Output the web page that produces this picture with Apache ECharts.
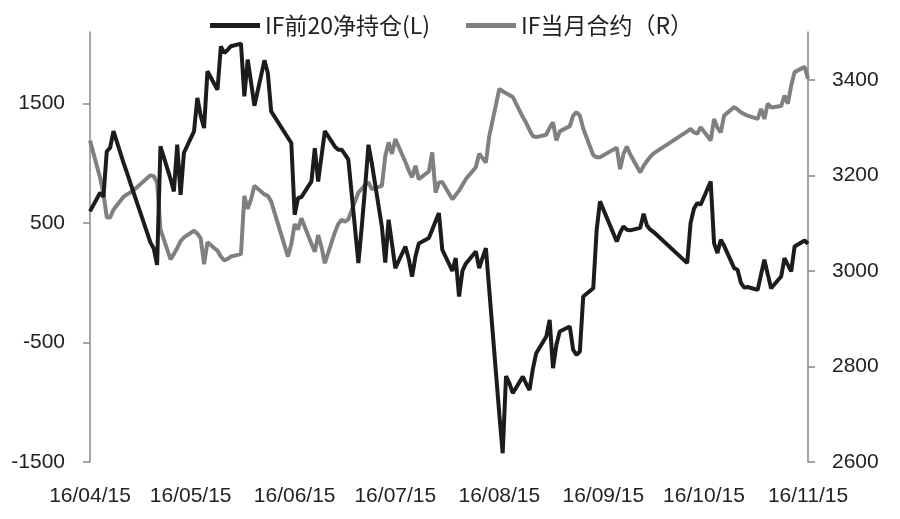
<!DOCTYPE html>
<html>
<head>
<meta charset="utf-8">
<script src="https://cdn.jsdelivr.net/npm/echarts@6/dist/echarts.min.js"></script>
<style>
	html, body { margin: 0; padding: 0; background: #fff; }
	#main { width: 900px; height: 519px; }
</style>
</head>
<body>
<div id="main"></div>
<script>
// trading days (2016), MM-DD
const tradeDays = [
	'04-15','04-18','04-19','04-20','04-21','04-22','04-25','04-26','04-27','04-28','04-29',
	'05-03','05-04','05-05','05-06','05-09','05-10','05-11','05-12','05-13','05-16','05-17','05-18','05-19','05-20','05-23','05-24','05-25','05-26','05-27','05-30','05-31',
	'06-01','06-02','06-03','06-06','06-07','06-08','06-13','06-14','06-15','06-16','06-17','06-20','06-21','06-22','06-23','06-24','06-27','06-28','06-29','06-30',
	'07-01','07-04','07-05','07-06','07-07','07-08','07-11','07-12','07-13','07-14','07-15','07-18','07-19','07-20','07-21','07-22','07-25','07-26','07-27','07-28','07-29',
	'08-01','08-02','08-03','08-04','08-05','08-08','08-09','08-10','08-11','08-12','08-15','08-16','08-17','08-18','08-19','08-22','08-23','08-24','08-25','08-26','08-29','08-30','08-31',
	'09-01','09-02','09-05','09-06','09-07','09-08','09-09','09-12','09-13','09-14','09-19','09-20','09-21','09-22','09-23','09-26','09-27','09-28','09-29','09-30',
	'10-10','10-11','10-12','10-13','10-14','10-17','10-18','10-19','10-20','10-21','10-24','10-25','10-26','10-27','10-28','10-31',
	'11-01','11-02','11-03','11-04','11-07','11-08','11-09','11-10','11-11','11-14','11-15'
]

// IF前20净持仓 (left axis)
const netPosition = [
	598, 754, 720, 1100, 1131, 1270, 1005, 922, 838, 755, 672,
	339, 288, 150, 1142, 870, 765, 1156, 737, 1089, 1268, 1548, 1400, 1296, 1771, 1617, 1980, 1925, 1950, 1981, 2003, 1561,
	1869, 1680, 1483, 1863, 1757, 1436, 1215, 1171, 570, 710, 718, 849, 1128, 849, 1060, 1270, 1140, 1115, 1115, 1075,
	1031, 165, 470, 800, 1156, 1000, 470, 170, 528, 330, 123, 304, 200, 53, 220, 330, 375, 445, 515, 584, 277,
	100, 207, -115, 100, 160, 263, 123, 210, 291, -60, -1100, -1427, -780, -840, -924, -785, -845, -897, -720, -589, -450, -310, -715,
	-520, -408, -366, -560, -603, -575, -115, -45, 440, 682, 346, 420, 472, 445, 439, 460, 578, 480, 445, 425,
	165, 500, 620, 668, 654, 849, 333, 249, 360, 310, 123, 110, 0, -40, -35, -59,
	70, 193, 72, -45, 53, 207, 150, 96, 304, 354, 327
]

// IF当月合约 (right axis)
const contractPrice = [
	3273, 3195, 3163, 3112, 3112, 3128, 3155, 3160, 3164, 3169, 3175,
	3200, 3198, 3185, 3087, 3024, 3035, 3048, 3062, 3070, 3084, 3078, 3068, 3014, 3060, 3042, 3030, 3022, 3025, 3030, 3035, 3157,
	3130, 3150, 3178, 3160, 3157, 3145, 3030, 3056, 3098, 3087, 3110, 3057, 3040, 3075, 3050, 3016, 3081, 3098, 3107, 3103,
	3108, 3164, 3172, 3180, 3185, 3171, 3178, 3240, 3269, 3245, 3276, 3228, 3210, 3196, 3220, 3192, 3208, 3248, 3164, 3185, 3186,
	3150, 3159, 3168, 3180, 3192, 3217, 3245, 3236, 3227, 3282, 3381, 3376, 3372, 3368, 3364, 3322, 3310, 3295, 3282, 3280, 3285, 3300, 3311,
	3273, 3292, 3303, 3325, 3332, 3325, 3298, 3242, 3238, 3238, 3258, 3213, 3245, 3260, 3244, 3206, 3220, 3230, 3239, 3246,
	3292, 3297, 3290, 3287, 3301, 3273, 3318, 3300, 3290, 3325, 3343, 3338, 3332, 3328, 3325, 3318,
	3339, 3318, 3350, 3342, 3345, 3367, 3350, 3388, 3416, 3427, 3402
]

const leftTicks = [-1500, -500, 500, 1500]
const rightTicks = [2600, 2800, 3000, 3200, 3400]

// every calendar day, so the month labels fall on the 15th
const pad = n => (n < 10 ? '0' : '') + n
const days = []
for (let t = Date.UTC(2016, 3, 15); t <= Date.UTC(2016, 10, 15); t += 86400000) {
	const d = new Date(t)
	days.push(pad(d.getUTCMonth() + 1) + '-' + pad(d.getUTCDate()))
}
const onDays = vals => days.map(d => {
	const i = tradeDays.indexOf(d)
	return i < 0 ? null : vals[i]
})

const labelFont = { fontFamily: 'Liberation Sans', fontSize: 21, color: '#222' }

const myChart = echarts.init(document.getElementById('main'))
myChart.setOption({
	animation: false,
	legend: {
		left: 205,
		top: 9,
		itemWidth: 50,
		itemHeight: 5,
		itemGap: 36,
		icon: 'rect',
		textStyle: { fontFamily: 'Noto Sans CJK SC', fontSize: 23, color: '#222' },
		data: ['IF前20净持仓(L)', 'IF当月合约（R）']
	},
	grid: { left: 90, right: 92, top: 32, bottom: 57 },
	xAxis: {
		type: 'category',
		boundaryGap: false,
		data: days,
		axisLine: { show: false },
		axisTick: { show: false },
		axisLabel: {
			...labelFont,
			margin: 24,
			interval: (i, v) => v.slice(3) === '15',
			formatter: v => '16/' + v.replace('-', '/')
		}
	},
	yAxis: [
		{
			type: 'value',
			min: -1500,
			max: 2100,
			interval: 1000,
			splitLine: { show: false },
			axisLine: { show: true, lineStyle: { color: '#888', width: 1.5 } },
			axisTick: { show: true, length: 7, customValues: leftTicks, lineStyle: { color: '#888', width: 1.5 } },
			axisLabel: { ...labelFont, margin: 25, customValues: leftTicks, formatter: v => String(v) }
		},
		{
			type: 'value',
			min: 2600,
			max: 3500,
			interval: 200,
			position: 'right',
			splitLine: { show: false },
			axisLine: { show: true, lineStyle: { color: '#888', width: 1.5 } },
			axisTick: { show: true, length: 7, customValues: rightTicks, lineStyle: { color: '#888', width: 1.5 } },
			axisLabel: { ...labelFont, margin: 24, customValues: rightTicks, formatter: v => String(v) }
		}
	],
	series: [
		{
			name: 'IF前20净持仓(L)',
			type: 'line',
			yAxisIndex: 0,
			z: 3,
			showSymbol: false,
			connectNulls: true,
			color: '#1c1c1c',
			lineStyle: { width: 4, color: '#1c1c1c' },
			data: onDays(netPosition)
		},
		{
			name: 'IF当月合约（R）',
			type: 'line',
			yAxisIndex: 1,
			z: 2,
			showSymbol: false,
			connectNulls: true,
			color: '#808080',
			lineStyle: { width: 4, color: '#808080' },
			data: onDays(contractPrice)
		}
	]
})
</script>
</body>
</html>
